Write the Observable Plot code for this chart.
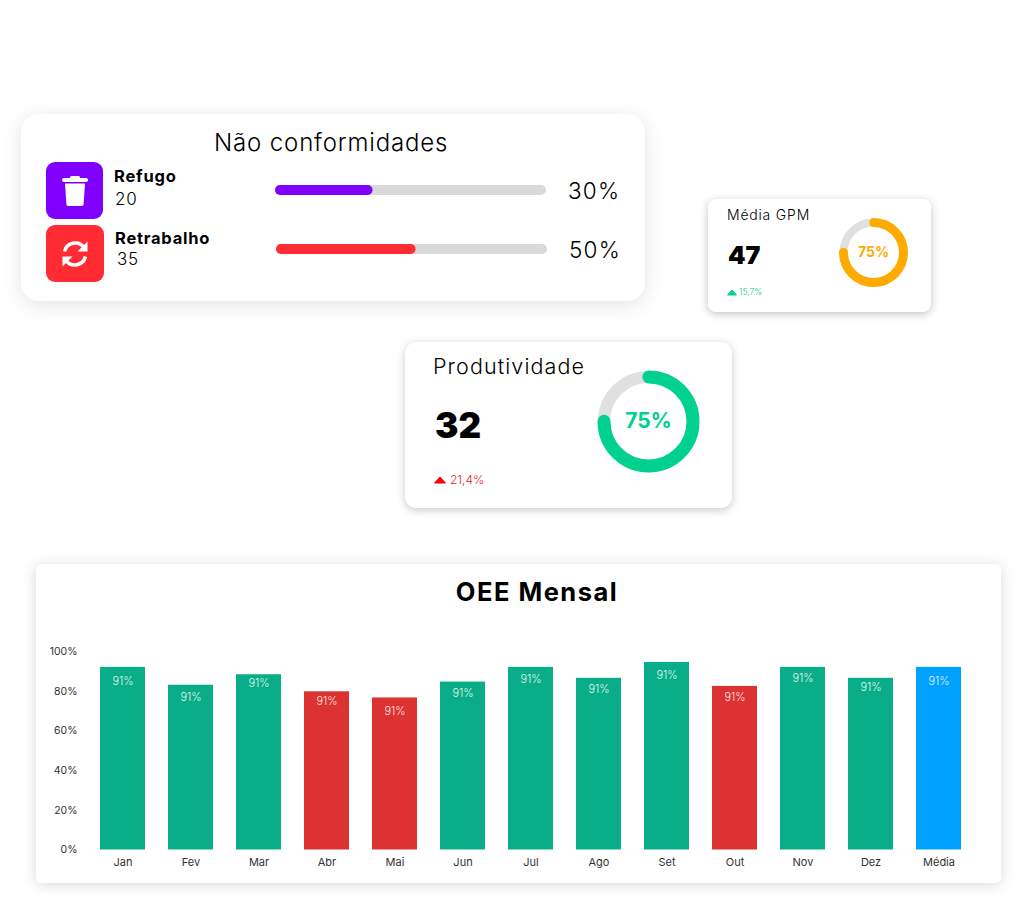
<!DOCTYPE html>
<html lang="pt-BR">
<head>
<meta charset="utf-8">
<title>Painel de produção</title>
<script src="https://cdn.jsdelivr.net/npm/d3@7"></script>
<script src="https://cdn.jsdelivr.net/npm/@observablehq/plot@0.6"></script>
<style>
  html, body { margin: 0; padding: 0; background: #fff; }
  body { width: 1022px; height: 904px; position: relative; overflow: hidden; font-family: Inter, "Open Sans", sans-serif; color: #000; }
  .card { position: absolute; background: #fff; }
  .t { position: absolute; white-space: nowrap; transform: translateY(-50%); line-height: 1; }
  .slot { position: absolute; }
  .slot svg { display: block; background: transparent; }
  .tile { position: absolute; display: flex; align-items: center; justify-content: center; }
</style>
</head>
<body>
<div class="card" style="left:21px;top:114px;width:624px;height:187px;border-radius:18px;box-shadow:0 4px 20px rgba(0,0,0,.11)"></div>
<div class="card" style="left:708px;top:199px;width:223px;height:113px;border-radius:8px;box-shadow:0 2px 8px rgba(0,0,0,.24)"></div>
<div class="card" style="left:405px;top:342px;width:327px;height:166px;border-radius:11px;box-shadow:0 2px 9px rgba(0,0,0,.22)"></div>
<div class="card" style="left:36px;top:564px;width:965px;height:319px;border-radius:5px;box-shadow:0 2px 14px rgba(0,0,0,.15)"></div>

<div class="t" style="left:214px;top:143px;font-size:24px;font-weight:300;letter-spacing:.85px">Não conformidades</div>

<div class="tile" style="left:46px;top:162px;width:57px;height:57px;border-radius:9px;background:#7f00ff">
  <svg width="28" height="32" viewBox="0 0 28 32" fill="#fff"><rect x="1" y="3" width="26" height="4" rx="2"/><rect x="9" y="1" width="10" height="4" rx="1.5"/><path d="M4 8.5h20l-1.4 20.5a2 2 0 0 1-2 2H7.4a2 2 0 0 1-2-2z"/></svg>
</div>
<div class="tile" style="left:46px;top:225px;width:58px;height:57px;border-radius:9px;background:#ff2d33">
  <svg width="30" height="30" viewBox="0 0 30 30" fill="none" stroke="#fff" stroke-width="3.6"><path d="M4.5 12.5A11 11 0 0 1 24 8.5"/><path d="M25.5 17.5A11 11 0 0 1 6 21.5"/><path d="M27.5 2.5v10h-10z" fill="#fff" stroke="none"/><path d="M2.5 27.5v-10h10z" fill="#fff" stroke="none"/></svg>
</div>

<div class="t" style="left:114px;top:176px;font-size:16.5px;font-weight:700;letter-spacing:.8px">Refugo</div>
<div class="t" style="left:115px;top:199px;font-size:17px;font-weight:300;letter-spacing:.9px">20</div>
<div class="t" style="left:115px;top:238px;font-size:16.5px;font-weight:700;letter-spacing:.75px">Retrabalho</div>
<div class="t" style="left:117px;top:259px;font-size:17px;font-weight:300;letter-spacing:.6px">35</div>
<div class="t" style="left:568px;top:191px;font-size:22.5px;font-weight:300;letter-spacing:1.2px">30%</div>
<div class="t" style="left:569px;top:250px;font-size:22.5px;font-weight:300;letter-spacing:1.2px">50%</div>
<div id="barRefugo" class="slot" style="left:275px;top:185px"></div>
<div id="barRetrabalho" class="slot" style="left:276px;top:244px"></div>

<div class="t" style="left:727px;top:215px;font-size:14px;font-weight:300;letter-spacing:.8px">Média GPM</div>
<div class="t" style="left:728px;top:255px;font-size:25px;font-weight:900">47</div>
<svg style="position:absolute;left:727px;top:289px" width="10" height="7" viewBox="0 0 10 7" fill="#00d18f" stroke="#00d18f" stroke-linejoin="round"><path d="M5 1L9.5 6H.5z"/></svg>
<div class="t" style="left:739px;top:292px;font-size:8.6px;font-weight:300;color:#22c797">15,7%</div>
<div id="donutGpm" class="slot" style="left:833px;top:212px"></div>

<div class="t" style="left:433px;top:367px;font-size:21.5px;font-weight:300;letter-spacing:1.1px">Produtividade</div>
<div class="t" style="left:435px;top:425px;font-size:35px;font-weight:900">32</div>
<svg style="position:absolute;left:434px;top:476px" width="12" height="8" viewBox="0 0 12 8" fill="#f00" stroke="#f00" stroke-linejoin="round"><path d="M6 1L11.5 7H.5z"/></svg>
<div class="t" style="left:450px;top:480px;font-size:12px;font-weight:300;color:#e3262c">21,4%</div>
<div id="donutProd" class="slot" style="left:588px;top:361px"></div>

<div class="t" style="left:0;width:1074px;text-align:center;top:592px;font-size:25.5px;font-weight:700;letter-spacing:1.5px">OEE Mensal</div>
<div id="oee" class="slot" style="left:36px;top:564px"></div>

<script>
// Chart values
const months = ["Jan","Fev","Mar","Abr","Mai","Jun","Jul","Ago","Set","Out","Nov","Dez","Média"];
const oeeValues = [92, 83, 88.3, 79.7, 76.6, 84.6, 92, 86.5, 94.5, 82.4, 92, 86.5, 92];
const oeeLabels = ["91%","91%","91%","91%","91%","91%","91%","91%","91%","91%","91%","91%","91%"];
const oeeStatus = ["ok","ok","ok","low","low","ok","ok","ok","ok","low","ok","ok","avg"];
const yTicks = [0, 20, 40, 60, 80, 100];
const refugoFill = 36;
const retrabalhoFill = 51.5;
const gpmRing = 75;
const prodRing = 75;

const FONT = "Inter, 'Open Sans', sans-serif";

const rows = months.map((m, i) => ({month: m, value: oeeValues[i], label: oeeLabels[i], status: oeeStatus[i]}));

function progress(id, value, color) {
  const track = [{v: 100}], fill = [{v: value}];
  const p = Plot.plot({
    width: 271, height: 10, margin: 0,
    style: {background: "transparent"},
    x: {domain: [0, 100], axis: null},
    y: {axis: null},
    marks: [
      Plot.barX(track, {x1: 0, x2: "v", fill: "#d9d9d9", rx: 5}),
      Plot.barX(fill, {x1: 0, x2: "v", fill: color, rx: 5})
    ]
  });
  document.getElementById(id).append(p);
}
progress("barRefugo", refugoFill, "#7f00ff");
progress("barRetrabalho", retrabalhoFill, "#ff2d33");

function donut(id, value, size, radius, sw, color, fontSize) {
  const C = 2 * Math.PI * radius;
  const done = C * value / 100;
  const p = Plot.plot({
    width: size, height: size, margin: 0,
    style: {background: "transparent"},
    x: {domain: [-1, 1], axis: null},
    y: {domain: [-1, 1], axis: null},
    marks: [
      Plot.dot([0], {x: 0, y: 0, r: radius, stroke: "#e0e0e0", strokeWidth: sw - 1, fill: "none"}),
      Plot.dot([0], {
        x: 0, y: 0, r: radius, stroke: color, strokeWidth: sw, fill: "none",
        strokeLinecap: "round",
        strokeDasharray: `${done} ${C - done}`,
        strokeDashoffset: C / 4
      }),
      Plot.text([value + "%"], {
        x: 0, y: 0, text: d => d, fill: color, fontSize, fontWeight: 700,
        fontFamily: FONT, textAnchor: "middle", lineAnchor: "middle"
      })
    ]
  });
  document.getElementById(id).append(p);
}
donut("donutGpm", gpmRing, 80, 30, 9, "#ffaa00", 14);
donut("donutProd", prodRing, 120, 44.5, 13, "#00d18f", 21);

// Label inset below each bar top differs a little in the picture
const insets = {Jan:14, Fev:12, Mar:9, Abr:10, Mai:14, Jun:11, Jul:12, Ago:11, Set:13, Out:11, Nov:11, Dez:9, "Média":14};
const insetGroups = [...new Set(Object.values(insets))];

const oee = Plot.plot({
  width: 965, height: 319,
  marginLeft: 41, marginRight: 16, marginTop: 87, marginBottom: 33.5,
  style: {background: "transparent", fontFamily: FONT, color: "#333"},
  x: {domain: months, padding: 0.338, label: null},
  y: {domain: [0, 100], label: null},
  color: {domain: ["ok","low","avg"], range: ["#09ae88","#dc3232","#00a2ff"]},
  marks: [
    Plot.axisX({tickSize: 0, tickPadding: 8, fontSize: 11, letterSpacing: "0.3px"}),
    Plot.axisY({ticks: yTicks, tickFormat: d => d + "%", tickSize: 0, tickPadding: 0, fontSize: 10.5, fontVariant: "normal"}),
    Plot.barY(rows, {x: "month", y: "value", fill: "status"}),
    ...insetGroups.map(dy => Plot.text(rows.filter(r => insets[r.month] === dy), {
      x: "month", y: "value", text: "label", dy, fill: "#fff", fillOpacity: 0.9, fontSize: 11, fontWeight: 300
    }))
  ]
});
document.getElementById("oee").append(oee);
</script>
</body>
</html>
